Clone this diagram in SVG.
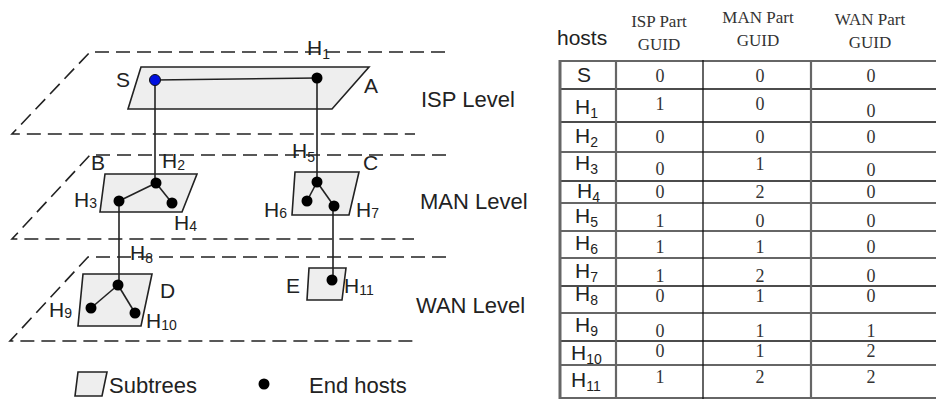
<svg xmlns="http://www.w3.org/2000/svg" width="936" height="399" viewBox="0 0 936 399">
<defs>
<style>
.plane{fill:none;stroke:#222;stroke-width:1.6;stroke-dasharray:14 7}
.sub{fill:#eeeeee;stroke:#222;stroke-width:1.6}
.host{fill:#000}
.conn line{stroke:#222;stroke-width:1.6}
.lbl{font-family:"Liberation Sans",Arial,sans-serif;font-size:21px;fill:#222}
.sb{font-size:14px}
.lvl{font-family:"Liberation Sans",Arial,sans-serif;font-size:22px;fill:#222}
.hd{font-family:"Liberation Serif","Times New Roman",serif;font-size:17px;fill:#333;text-anchor:middle}
.num{font-family:"Liberation Serif","Times New Roman",serif;font-size:18px;fill:#333;text-anchor:middle}
.tl{font-family:"Liberation Sans",Arial,sans-serif;font-size:21px;fill:#222}
.rb{stroke:#111;stroke-width:1.3}
.rg{stroke:#666;stroke-width:2.2}
</style>
</defs>
<rect width="936" height="399" fill="#fff"/>

<g id="planes">
<path class="plane" d="M445,52 H90 L12,134 H415"/>
<path class="plane" d="M446,155 H90 L12,239 H414"/>
<path class="plane" d="M446,257 H88 L10,341 H414"/>
</g>

<g id="subtrees">
<polygon id="subtree-A" class="sub" points="141,67 369,67 332,109 128,109"/>
<polygon id="subtree-B" class="sub" points="105,174 197,174 182,212 100,212"/>
<polygon id="subtree-C" class="sub" points="295,172 359,172 349,215 292,215"/>
<polygon id="subtree-D" class="sub" points="83,274 152,274 141,326 78,326"/>
<polygon id="subtree-E" class="sub" points="309,268 346,268 342,300 307,300"/>
</g>

<g id="connectors" class="conn">
<line x1="155" y1="80" x2="317" y2="78"/>
<line x1="155" y1="80" x2="155" y2="183"/>
<line x1="317" y1="78" x2="317" y2="182"/>
<line x1="156" y1="183" x2="119" y2="201"/>
<line x1="156" y1="183" x2="172" y2="203"/>
<line x1="317" y1="182" x2="307" y2="201"/>
<line x1="317" y1="182" x2="334" y2="206"/>
<line x1="119" y1="201" x2="119" y2="285"/>
<line x1="333" y1="206" x2="333" y2="280"/>
<line x1="118" y1="285" x2="91" y2="308"/>
<line x1="118" y1="285" x2="135" y2="313"/>
</g>

<g id="node-S"><circle cx="155" cy="80" r="5.5" fill="#0010e0" stroke="#111" stroke-width="1"/><text class="lbl" x="116" y="87">S</text></g>
<g id="node-A"><text class="lbl" x="364" y="93">A</text></g>
<g id="node-H1"><circle class="host" cx="317" cy="78" r="5.5"/><text class="lbl" x="307" y="55">H<tspan class="sb" dy="4">1</tspan></text></g>
<g id="node-B"><text class="lbl" x="91" y="170">B</text></g>
<g id="node-H2"><circle class="host" cx="156" cy="183" r="5.5"/><text class="lbl" x="162" y="168">H<tspan class="sb" dy="2">2</tspan></text></g>
<g id="node-H3"><circle class="host" cx="119" cy="201" r="5.5"/><text class="lbl" x="74" y="207">H<tspan class="sb" dy="1">3</tspan></text></g>
<g id="node-H4"><circle class="host" cx="172" cy="203" r="5.5"/><text class="lbl" x="174" y="230">H<tspan class="sb" dy="1">4</tspan></text></g>
<g id="node-C"><text class="lbl" x="363" y="170">C</text></g>
<g id="node-H5"><circle class="host" cx="317" cy="182" r="5.5"/><text class="lbl" x="292" y="158">H<tspan class="sb" dy="4">5</tspan></text></g>
<g id="node-H6"><circle class="host" cx="307" cy="201" r="5.5"/><text class="lbl" x="264" y="217">H<tspan class="sb" dy="1">6</tspan></text></g>
<g id="node-H7"><circle class="host" cx="334" cy="206" r="5.5"/><text class="lbl" x="356" y="217">H<tspan class="sb" dy="1">7</tspan></text></g>
<g id="node-H8"><circle class="host" cx="118" cy="285" r="5.5"/><text class="lbl" x="130" y="260">H<tspan class="sb" dy="3">8</tspan></text></g>
<g id="node-D"><text class="lbl" x="160" y="298">D</text></g>
<g id="node-H9"><circle class="host" cx="91" cy="308" r="5.5"/><text class="lbl" x="49" y="317">H<tspan class="sb" dy="1">9</tspan></text></g>
<g id="node-H10"><circle class="host" cx="135" cy="313" r="5.5"/><text class="lbl" x="146" y="328">H<tspan class="sb" dy="2">10</tspan></text></g>
<g id="node-E"><text class="lbl" x="286" y="293">E</text></g>
<g id="node-H11"><circle class="host" cx="332" cy="280" r="5.5"/><text class="lbl" x="344" y="293">H<tspan class="sb" dy="2">11</tspan></text></g>

<g id="levels">
<text class="lvl" x="421" y="107">ISP Level</text>
<text class="lvl" x="420" y="209">MAN Level</text>
<text class="lvl" x="416" y="313">WAN Level</text>
</g>

<g id="legend">
<polygon class="sub" points="78,372 107,372 102,396 75,396"/>
<text class="lvl" x="109" y="393">Subtrees</text>
<circle class="host" cx="264" cy="384" r="5.5"/>
<text class="lvl" x="309" y="393">End hosts</text>
</g>

<g id="table">
<text class="tl" x="557" y="45">hosts</text>
<text class="hd" x="659" y="27">ISP Part</text>
<text class="hd" x="659" y="50">GUID</text>
<text class="hd" x="758" y="23">MAN Part</text>
<text class="hd" x="758" y="46">GUID</text>
<text class="hd" x="870" y="25">WAN Part</text>
<text class="hd" x="870" y="48">GUID</text>

<line class="rg" x1="559" y1="61" x2="936" y2="61"/>
<line class="rb" x1="559" y1="89" x2="936" y2="89"/>
<line class="rb" x1="559" y1="122" x2="936" y2="122"/>
<line class="rg" x1="559" y1="152" x2="936" y2="152"/>
<line class="rb" x1="559" y1="181" x2="936" y2="181"/>
<line class="rg" x1="559" y1="203" x2="936" y2="203"/>
<line class="rg" x1="559" y1="231" x2="936" y2="231"/>
<line class="rg" x1="559" y1="258" x2="936" y2="258"/>
<line class="rb" x1="559" y1="286" x2="936" y2="286"/>
<line class="rg" x1="559" y1="313" x2="936" y2="313"/>
<line class="rb" x1="559" y1="341" x2="936" y2="341"/>
<line class="rg" x1="559" y1="365" x2="936" y2="365"/>
<line class="rg" x1="559" y1="398" x2="936" y2="398"/>
<line stroke="#666" stroke-width="3" x1="560" y1="60" x2="560" y2="399"/>
<line class="rg" x1="616" y1="60" x2="616" y2="399"/>
<line class="rb" x1="703" y1="60" x2="703" y2="399"/>
<line class="rg" x1="811" y1="60" x2="811" y2="399"/>

<text class="tl" x="577" y="82">S</text>
<text class="tl" x="575" y="114">H<tspan class="sb" dy="4">1</tspan></text>
<text class="tl" x="575" y="143">H<tspan class="sb" dy="4">2</tspan></text>
<text class="tl" x="575" y="170">H<tspan class="sb" dy="4">3</tspan></text>
<text class="tl" x="577" y="198">H<tspan class="sb" dy="4">4</tspan></text>
<text class="tl" x="575" y="223">H<tspan class="sb" dy="4">5</tspan></text>
<text class="tl" x="575" y="250">H<tspan class="sb" dy="4">6</tspan></text>
<text class="tl" x="575" y="278">H<tspan class="sb" dy="4">7</tspan></text>
<text class="tl" x="575" y="301">H<tspan class="sb" dy="4">8</tspan></text>
<text class="tl" x="575" y="332">H<tspan class="sb" dy="4">9</tspan></text>
<text class="tl" x="571" y="360">H<tspan class="sb" dy="4">10</tspan></text>
<text class="tl" x="571" y="387">H<tspan class="sb" dy="4">11</tspan></text>

<g>
<text class="num" x="660" y="82">0</text><text class="num" x="760" y="82">0</text><text class="num" x="871" y="82">0</text>
<text class="num" x="660" y="110">1</text><text class="num" x="760" y="110">0</text><text class="num" x="871" y="117">0</text>
<text class="num" x="660" y="143">0</text><text class="num" x="760" y="143">0</text><text class="num" x="871" y="143">0</text>
<text class="num" x="660" y="175">0</text><text class="num" x="760" y="170">1</text><text class="num" x="871" y="176">0</text>
<text class="num" x="660" y="198">0</text><text class="num" x="760" y="198">2</text><text class="num" x="871" y="198">0</text>
<text class="num" x="660" y="227">1</text><text class="num" x="760" y="227">0</text><text class="num" x="871" y="227">0</text>
<text class="num" x="660" y="253">1</text><text class="num" x="760" y="253">1</text><text class="num" x="871" y="253">0</text>
<text class="num" x="660" y="282">1</text><text class="num" x="760" y="282">2</text><text class="num" x="871" y="282">0</text>
<text class="num" x="660" y="302">0</text><text class="num" x="760" y="302">1</text><text class="num" x="871" y="302">0</text>
<text class="num" x="660" y="337">0</text><text class="num" x="760" y="337">1</text><text class="num" x="871" y="337">1</text>
<text class="num" x="660" y="357">0</text><text class="num" x="760" y="357">1</text><text class="num" x="871" y="357">2</text>
<text class="num" x="660" y="383">1</text><text class="num" x="760" y="383">2</text><text class="num" x="871" y="383">2</text>
</g>
</g>
</svg>
